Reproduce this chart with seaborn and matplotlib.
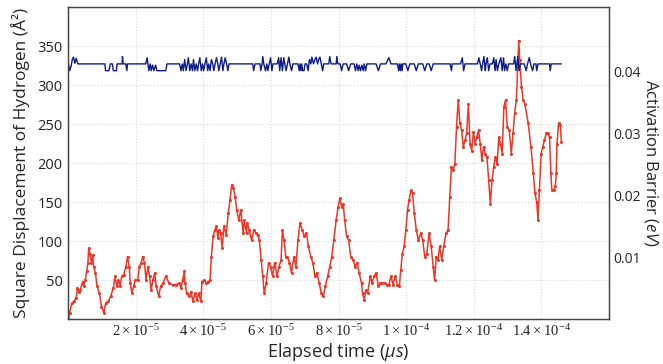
import numpy as np
import pandas as pd
import matplotlib
matplotlib.use('Agg')
import matplotlib.pyplot as plt
import seaborn as sns

# red series: square displacement (time in units of 1e-5 us)
disp_time = [0.01, 0.05, 0.11, 0.18, 0.24, 0.28, 0.31, 0.36, 0.43, 0.46, 0.51, 0.55, 0.59, 0.61, 0.65, 0.69,
             0.73, 0.76, 0.81, 0.86, 0.93, 0.99, 1.06, 1.11, 1.19, 1.26, 1.34, 1.39, 1.44, 1.49, 1.54, 1.59,
             1.65, 1.71, 1.76, 1.81, 1.84, 1.89, 1.94, 1.99, 2.06, 2.11, 2.16, 2.21, 2.26, 2.31, 2.36, 2.41,
             2.46, 2.51, 2.56, 2.61, 2.68, 2.74, 2.81, 2.89, 2.99, 3.09, 3.19, 3.29, 3.34, 3.39, 3.44, 3.46,
             3.51, 3.58, 3.64, 3.69, 3.76, 3.81, 3.86, 3.93, 3.96, 4.03, 4.09, 4.15, 4.2, 4.24, 4.29, 4.34,
             4.39, 4.43, 4.46, 4.51, 4.56, 4.61, 4.68, 4.74, 4.79, 4.84, 4.89, 4.94, 4.99, 5.05, 5.11, 5.18,
             5.21, 5.28, 5.3, 5.36, 5.43, 5.49, 5.56, 5.61, 5.66, 5.71, 5.76, 5.8, 5.86, 5.93, 5.99, 6.05,
             6.11, 6.18, 6.24, 6.3, 6.34, 6.39, 6.44, 6.49, 6.55, 6.61, 6.68, 6.74, 6.8, 6.86, 6.93, 6.99,
             7.05, 7.11, 7.18, 7.24, 7.3, 7.36, 7.43, 7.49, 7.55, 7.61, 7.68, 7.74, 7.8, 7.86, 7.93, 7.99,
             8.04, 8.09, 8.14, 8.18, 8.24, 8.3, 8.36, 8.43, 8.49, 8.55, 8.61, 8.68, 8.71, 8.76, 8.81, 8.86,
             8.94, 8.99, 9.05, 9.11, 9.18, 9.24, 9.3, 9.36, 9.43, 9.49, 9.55, 9.61, 9.68, 9.74, 9.8, 9.84,
             9.89, 9.94, 9.99, 10.04, 10.09, 10.14, 10.19, 10.24, 10.3, 10.36, 10.43, 10.49, 10.55, 10.61, 10.68, 10.74,
             10.8, 10.84, 10.89, 10.94, 10.99, 11.05, 11.11, 11.18, 11.24, 11.29, 11.34, 11.39, 11.44, 11.49, 11.54, 11.59,
             11.64, 11.69, 11.74, 11.79, 11.84, 11.89, 11.94, 11.99, 12.04, 12.09, 12.14, 12.19, 12.24, 12.29, 12.34, 12.39,
             12.44, 12.49, 12.54, 12.59, 12.64, 12.69, 12.74, 12.79, 12.84, 12.89, 12.94, 12.99, 13.05, 13.11, 13.16, 13.21,
             13.26, 13.3, 13.33, 13.36, 13.41, 13.46, 13.51, 13.61, 13.69, 13.76, 13.81, 13.86, 13.9, 13.94, 13.99, 14.04,
             14.09, 14.14, 14.19, 14.24, 14.28, 14.31, 14.36, 14.41, 14.44, 14.46, 14.51, 14.56, 14.59]
disp_vals = [1, 8, 20, 23, 27, 40, 35, 37, 48, 42, 50, 61, 72, 91, 84, 72,
             82, 67, 59, 42, 33, 16, 8, 20, 23, 29, 40, 55, 42, 50, 42, 55,
             57, 67, 80, 67, 46, 33, 42, 50, 50, 67, 72, 80, 72, 50, 67, 55,
             37, 50, 59, 42, 29, 42, 46, 55, 46, 44, 44, 46, 40, 50, 61, 46,
             33, 29, 35, 23, 33, 25, 33, 23, 48, 50, 46, 48, 50, 80, 106, 114,
             119, 104, 114, 110, 91, 119, 108, 136, 153, 172, 168, 157, 140, 127, 140, 110,
             127, 110, 123, 114, 101, 114, 110, 108, 101, 76, 55, 33, 46, 72, 67, 55,
             72, 55, 67, 76, 114, 101, 80, 80, 72, 59, 80, 67, 101, 123, 114, 106,
             110, 93, 80, 72, 55, 59, 46, 33, 29, 42, 55, 67, 80, 101, 127, 144,
             155, 144, 148, 127, 106, 101, 80, 76, 67, 72, 59, 46, 33, 25, 37, 33,
             55, 46, 55, 59, 42, 46, 46, 46, 44, 44, 55, 44, 55, 44, 42, 63,
             84, 93, 114, 140, 153, 165, 161, 136, 114, 101, 110, 101, 80, 84, 110, 93,
             67, 50, 80, 76, 93, 76, 93, 110, 114, 157, 195, 191, 199, 246, 281, 251,
             242, 221, 229, 238, 276, 225, 216, 240, 225, 233, 242, 225, 204, 221, 212, 208,
             178, 148, 178, 195, 208, 199, 233, 225, 212, 272, 281, 246, 242, 212, 238, 264,
             281, 323, 357, 332, 298, 281, 276, 251, 221, 187, 161, 150, 127, 165, 212, 221,
             229, 238, 238, 233, 187, 165, 165, 170, 187, 225, 251, 249, 227]

# blue series: activation barrier (eV)
barrier_time = [0.01, 0.05, 0.09, 0.125, 0.16, 0.2, 0.24, 0.29, 1.09, 1.11, 1.21, 1.25, 1.31, 1.34, 1.43, 1.45,
                1.6, 1.61, 1.63, 1.71, 1.74, 1.76, 2.3, 2.34, 2.39, 2.43, 2.46, 2.5, 2.54, 2.59, 2.63, 2.89, 2.93,
                3.3, 3.34, 3.38, 3.41, 3.45, 3.49, 3.53, 3.56, 3.6, 3.64, 3.68, 3.71, 3.75, 3.79, 3.83, 3.86,
                3.9, 3.94, 3.98, 4.01, 4.05, 4.09, 4.13, 4.16, 4.2, 4.24, 4.28, 4.31, 4.35, 4.39, 4.43, 4.46,
                4.5, 4.54, 4.58, 4.61, 4.65, 4.69, 4.73, 4.76, 5.46, 5.49, 5.53, 5.68, 5.7, 5.74, 5.76, 5.79,
                5.84, 5.88, 5.91, 5.95, 5.99, 6.03, 6.06, 6.19, 6.23, 6.26, 6.3, 6.34, 6.38, 6.41, 6.45, 6.49,
                6.53, 6.56, 6.61, 6.65, 6.8, 6.84, 6.86, 6.89, 6.91, 6.94, 6.98, 7.01, 7.06, 7.1, 7.14, 7.18,
                7.21, 7.26, 7.3, 7.34, 7.38, 7.41, 7.45, 7.49, 7.53, 7.56, 7.71, 7.74, 7.78, 7.93, 7.95, 7.98,
                8.05, 8.09, 8.14, 8.24, 8.3, 8.36, 8.46, 8.5, 8.54, 8.58, 8.61, 8.65, 8.69, 8.73, 8.76, 8.8,
                8.84, 9.11, 9.18, 9.24, 9.4, 9.49, 9.55, 9.74, 9.78, 9.8, 9.83, 9.85, 9.88, 9.9, 9.99, 10.05,
                10.11, 10.24, 10.3, 10.36, 10.49, 10.55, 10.61, 10.68, 10.74, 10.8, 11.3, 11.34, 11.36, 11.61, 11.66, 11.7,
                11.74, 12.11, 12.15, 12.19, 12.23, 12.26, 12.3, 12.34, 12.36, 12.4, 12.44, 12.48, 12.55, 12.59, 12.63, 12.66,
                12.7, 12.74, 12.8, 12.84, 12.88, 12.91, 12.95, 12.99, 13.03, 13.18, 13.21, 13.25, 13.3, 13.34, 13.38, 13.49,
                13.55, 13.59, 13.64, 13.68, 13.74, 13.78, 13.84, 13.86, 13.9, 14.24, 14.26, 14.29, 14.59]
barrier_vals = [0.0413, 0.0402, 0.0409, 0.042, 0.0424, 0.0414, 0.0422, 0.0413, 0.0413, 0.0402, 0.0402, 0.0413, 0.0413, 0.0402, 0.0402, 0.0413,
                0.0413, 0.0425, 0.0413, 0.0413, 0.0402, 0.0413, 0.0413, 0.0423, 0.0402, 0.0413, 0.0402, 0.0411, 0.0402, 0.0411, 0.0402, 0.0402, 0.0413,
                0.0413, 0.0402, 0.0413, 0.0402, 0.042, 0.0402, 0.0413, 0.0423, 0.0402, 0.0413, 0.0402, 0.042, 0.0402, 0.0413, 0.0402, 0.0413,
                0.0423, 0.0402, 0.0413, 0.0402, 0.0413, 0.0423, 0.0402, 0.0413, 0.0402, 0.042, 0.0413, 0.0402, 0.0413, 0.0423, 0.0413, 0.0402,
                0.0413, 0.0424, 0.0402, 0.0413, 0.0423, 0.0413, 0.0402, 0.0413, 0.0413, 0.0402, 0.0413, 0.0413, 0.0402, 0.0413, 0.0425, 0.0413,
                0.0402, 0.0413, 0.0402, 0.0413, 0.0423, 0.0402, 0.0413, 0.0413, 0.0423, 0.0402, 0.0423, 0.0402, 0.0423, 0.0413, 0.0402, 0.0413,
                0.0424, 0.0413, 0.0402, 0.0413, 0.0413, 0.0402, 0.0413, 0.0402, 0.0413, 0.0402, 0.0402, 0.0413, 0.0413, 0.0402, 0.042, 0.0413,
                0.0424, 0.0413, 0.042, 0.0424, 0.0413, 0.042, 0.0424, 0.0413, 0.0402, 0.0413, 0.0413, 0.0425, 0.0413, 0.0413, 0.0425, 0.0413,
                0.0413, 0.0402, 0.0413, 0.0413, 0.0402, 0.0413, 0.0413, 0.0402, 0.0413, 0.0402, 0.0411, 0.0402, 0.0411, 0.0402, 0.0413, 0.0402,
                0.0413, 0.0413, 0.0402, 0.0413, 0.0413, 0.0423, 0.0413, 0.0413, 0.0402, 0.0413, 0.0402, 0.0413, 0.0402, 0.0413, 0.0413, 0.0402,
                0.0413, 0.0413, 0.0402, 0.0413, 0.0413, 0.0402, 0.0413, 0.0413, 0.0402, 0.0413, 0.0413, 0.0402, 0.0413, 0.0413, 0.0423, 0.0402,
                0.0413, 0.0413, 0.0423, 0.0413, 0.0402, 0.0413, 0.0425, 0.0402, 0.0413, 0.0423, 0.0402, 0.0413, 0.0413, 0.0423, 0.0402, 0.042,
                0.0402, 0.0413, 0.0423, 0.0402, 0.0423, 0.0402, 0.0413, 0.0402, 0.0413, 0.0413, 0.0425, 0.0402, 0.0425, 0.0402, 0.0413, 0.0413,
                0.0402, 0.0413, 0.0423, 0.0413, 0.0402, 0.0413, 0.0413, 0.0402, 0.0413, 0.0413, 0.0402, 0.0413, 0.0413]

x_ticks = [2e-5, 4e-5, 6e-5, 8e-5, 1e-4, 1.2e-4, 1.4e-4]
x_ticklabels = [r'$2\times10^{-5}$', r'$4\times10^{-5}$', r'$6\times10^{-5}$', r'$8\times10^{-5}$',
                r'$1\times10^{-4}$', r'$1.2\times10^{-4}$', r'$1.4\times10^{-4}$']
left_ticks = [50, 100, 150, 200, 250, 300, 350]
right_ticks = [0.01, 0.02, 0.03, 0.04]

disp = pd.DataFrame({'t': np.array(disp_time) * 1e-5, 'v': disp_vals})
barrier = pd.DataFrame({'t': np.array(barrier_time) * 1e-5, 'v': barrier_vals})

sns.set_theme(style='white')
plt.rcParams['font.family'] = ['Open Sans', 'DejaVu Sans']
plt.rcParams['mathtext.fontset'] = 'custom'
plt.rcParams['mathtext.rm'] = 'Liberation Serif'
plt.rcParams['mathtext.it'] = 'Open Sans:italic'

fig = plt.figure(figsize=(6.63, 3.64), dpi=100)
ax = fig.add_axes([0.1026, 0.1236, 0.816, 0.857])
ax2 = ax.twinx()

sns.lineplot(data=disp, x='t', y='v', ax=ax, color='#ee3526', linewidth=1.1,
             marker='o', markersize=2.2, markeredgewidth=0, estimator=None, sort=False)
sns.lineplot(data=barrier, x='t', y='v', ax=ax2, color='#0d1a8c', linewidth=1.0,
             estimator=None, sort=False)

ax.set_xlim(0, 1.6e-4)
ax.set_ylim(0, 400)
ax2.set_ylim(0, 0.0505)

ax.set_xticks(x_ticks)
ax.set_xticklabels(x_ticklabels, fontsize=10.5)
ax.set_yticks(left_ticks)
ax.set_yticklabels([str(v) for v in left_ticks], fontsize=10.5)
ax2.set_yticks(right_ticks)
ax2.set_yticklabels([f'{v:.2f}' for v in right_ticks], fontsize=10)

ax.grid(True, color='#dadada', linestyle=':', linewidth=0.8)
ax2.grid(False)
ax.tick_params(axis='y', length=0, pad=4, colors='#222222')
ax.tick_params(axis='x', length=0, pad=3, colors='#222222')
ax2.tick_params(length=0, pad=3, colors='#222222')

ax.set_xlabel(r'Elapsed time ($\mu s$)', fontsize=13, va='center')
ax.set_ylabel('Square Displacement of Hydrogen (Å²)', fontsize=12.5, va='center')
ax2.set_ylabel(r'Activation Barrier ($eV$)', fontsize=12, rotation=270, va='center')
ax.xaxis.set_label_coords(0.5, -0.105)
ax.yaxis.set_label_coords(-0.088, 0.5)
ax2.yaxis.set_label_coords(1.078, 0.5)

for a in (ax, ax2):
    for s in a.spines.values():
        s.set_color('#444444')
        s.set_linewidth(0.9)

fig.savefig('out.png', dpi=100)
